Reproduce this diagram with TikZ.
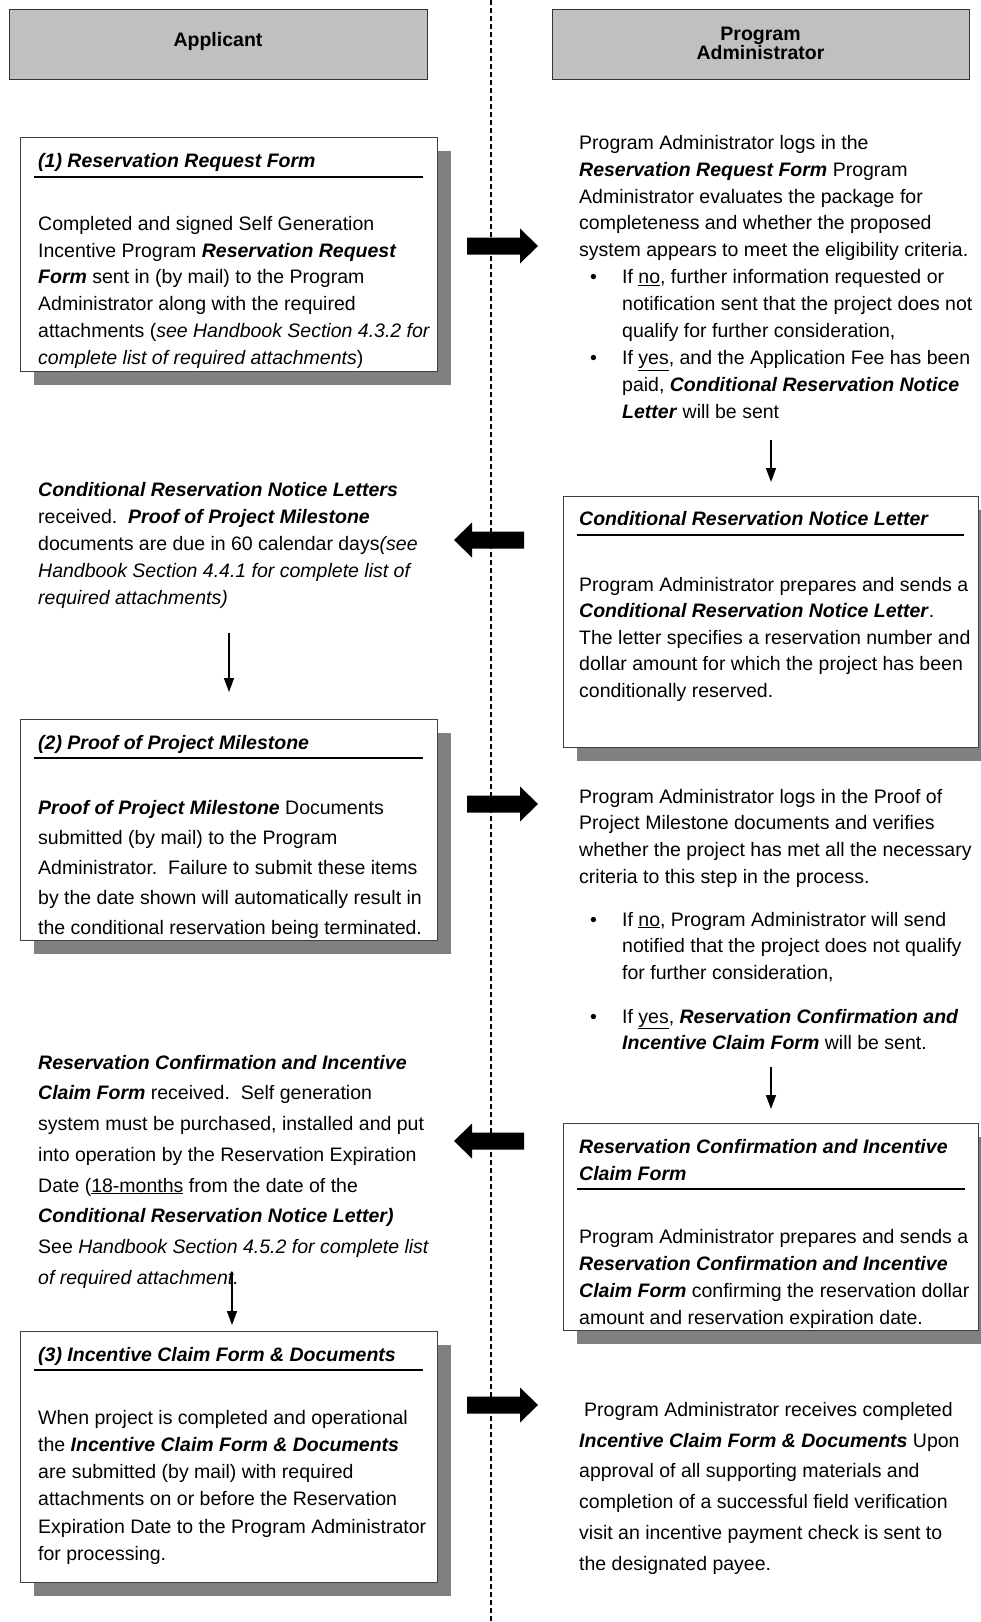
\documentclass[tikz,border=0pt]{standalone}
\usepackage{fontspec}
\setmainfont{Liberation Sans}
\usetikzlibrary{arrows.meta,shadows}
\definecolor{hdrgray}{RGB}{192,192,192}
\definecolor{shadowgray}{RGB}{128,128,128}
\newcommand\bfit[1]{\textbf{\textit{#1}}}
\newcommand\fl{\rule{0pt}{15pt}}
\newcommand\blt{\hspace*{11pt}\makebox[32pt][l]{\textbullet}}
\newcommand\bind{\hspace*{43pt}}
\tikzset{
  hdr/.style={draw=black!80, line width=0.9pt, fill=hdrgray, anchor=north west, inner sep=0pt,
    font=\fontsize{19.5}{19}\selectfont\bfseries, align=center},
  card/.style={draw=black!75, line width=0.9pt, fill=white, anchor=north west, inner sep=0pt,
    drop shadow={opacity=1, fill=shadowgray, shadow xshift=14pt, shadow yshift=-14pt}},
  txt/.style={anchor=north west, inner sep=0pt, align=left, font=\fontsize{19.5}{27}\selectfont},
  rule/.style={line width=1.6pt},
  downarrow/.style={line width=1.4pt, -{Triangle[width=10pt,length=14pt]}},
  divider/.style={line width=2pt, dash pattern=on 5pt off 3pt},
  rblock/.pic={\fill (0,-8.5) -- (53,-8.5) -- (53,-17.5) -- (71,0) -- (53,17.5) -- (53,8.5) -- (0,8.5) -- cycle;},
  lblock/.pic={\fill (0,0) -- (18,-17.5) -- (18,-8.5) -- (70,-8.5) -- (70,8.5) -- (18,8.5) -- (18,17.5) -- cycle;},
}
\begin{document}
\begin{tikzpicture}[x=1pt,y=-1pt]
\useasboundingbox (0,0) rectangle (981,1622);
\fill[white] (0,0) rectangle (981,1622);

% divider
\coordinate (dtop) at (490.7,0);
\coordinate (dbot) at (490.7,1622);
\draw[divider] (dtop) -- (dbot);

% headers
\node[hdr, minimum width=418, minimum height=70] (hA) at (9,9) {};
\node[font=\fontsize{19.5}{19}\selectfont\bfseries] (hAt) at (218,41) {Applicant};
\node[hdr, minimum width=417, minimum height=70] (hP) at (552,9) {};
\node[font=\fontsize{19.5}{19}\selectfont\bfseries, align=center] (hPt) at (760.5,43) {Program\\Administrator};

% ---------- Box 1
\node[card, minimum width=417, minimum height=234] (b1) at (20,137) {};
\node[txt] (b1t) at (38,152) {\fl\bfit{(1) Reservation Request Form}};
\coordinate (b1ua) at (34,177); \coordinate (b1ub) at (423,177);
\draw[rule] (b1ua) -- (b1ub);
\node[txt, font=\fontsize{19.5}{26.8}\selectfont] (b1b) at (38,215) {\fl Completed and signed Self Generation\\
Incentive Program \bfit{Reservation Request}\\
\bfit{Form} sent in (by mail) to the Program\\
Administrator along with the required\\
attachments (\textit{see Handbook Section 4.3.2 for}\\
\textit{complete list of required attachments})};

% ---------- PA text 1
\node[txt, font=\fontsize{19.5}{26.9}\selectfont] (pa1) at (579,134) {\fl Program Administrator logs in the\\
\bfit{Reservation Request Form} Program\\
Administrator evaluates the package for\\
completeness and whether the proposed\\
system appears to meet the eligibility criteria.\\
\blt If \underline{no}, further information requested or\\
\bind notification sent that the project does not\\
\bind qualify for further consideration,\\
\blt If \underline{yes}, and the Application Fee has been\\
\bind paid, \bfit{Conditional Reservation Notice}\\
\bind \bfit{Letter} will be sent};

\pic at (467,246) {rblock};

\coordinate (d1a) at (771,440); \coordinate (d1b) at (771,482);
\draw[downarrow] (d1a) -- (d1b);

% ---------- Conditional Reservation Notice Letter box
\node[card, minimum width=415, minimum height=251] (crnl) at (563,496) {};
\node[txt] (crnlt) at (579,510) {\fl\bfit{Conditional Reservation Notice Letter}};
\coordinate (cua) at (577,535); \coordinate (cub) at (964,535);
\draw[rule] (cua) -- (cub);
\node[txt, font=\fontsize{19.5}{26.5}\selectfont] (crnlb) at (579,576) {\fl Program Administrator prepares and sends a\\
\bfit{Conditional Reservation Notice Letter}.\\
The letter specifies a reservation number and\\
dollar amount for which the project has been\\
conditionally reserved.};

% ---------- Left text 1
\node[txt, font=\fontsize{19.5}{27}\selectfont] (l1) at (38,481) {\fl\bfit{Conditional Reservation Notice Letters}\\
received.\ \ \bfit{Proof of Project Milestone}\\
documents are due in 60 calendar days\textit{(see}\\
\textit{Handbook Section 4.4.1 for complete list of}\\
\textit{required attachments)}};

\pic at (454,540) {lblock};

\coordinate (d2a) at (229,633); \coordinate (d2b) at (229,692);
\draw[downarrow] (d2a) -- (d2b);

% ---------- Box 2
\node[card, minimum width=417, minimum height=221] (b2) at (20,719) {};
\node[txt] (b2t) at (38,734) {\fl\bfit{(2) Proof of Project Milestone}};
\coordinate (b2ua) at (34,758); \coordinate (b2ub) at (423,758);
\draw[rule] (b2ua) -- (b2ub);
\node[txt, font=\fontsize{19.5}{30}\selectfont] (b2b) at (38,799) {\fl\bfit{Proof of Project Milestone} Documents\\
submitted (by mail) to the Program\\
Administrator.\ \ Failure to submit these items\\
by the date shown will automatically result in\\
the conditional reservation being terminated.};

\pic at (467,804) {rblock};

% ---------- PA text 2
\node[txt, font=\fontsize{19.5}{26.7}\selectfont] (pa2) at (579,788) {\fl Program Administrator logs in the Proof of\\
Project Milestone documents and verifies\\
whether the project has met all the necessary\\
criteria to this step in the process.\\[16pt]
\blt If \underline{no}, Program Administrator will send\\
\bind notified that the project does not qualify\\
\bind for further consideration,\\[17pt]
\blt If \underline{yes}, \bfit{Reservation Confirmation and}\\
\bind \bfit{Incentive Claim Form} will be sent.};

\coordinate (d3a) at (771,1067); \coordinate (d3b) at (771,1109);
\draw[downarrow] (d3a) -- (d3b);

% ---------- Left text 2
\node[txt, font=\fontsize{19.5}{30.7}\selectfont] (l2) at (38,1054) {\fl\bfit{Reservation Confirmation and Incentive}\\
\bfit{Claim Form} received.\ \ Self generation\\
system must be purchased, installed and put\\
into operation by the Reservation Expiration\\
Date (\underline{18-months} from the date of the\\
\bfit{Conditional Reservation Notice Letter)}\\
See \textit{Handbook Section 4.5.2 for complete list}\\
\textit{of required attachment.}};

\pic at (454,1141) {lblock};

% ---------- RC box
\node[card, minimum width=415, minimum height=207] (rc) at (563,1123) {};
\node[txt, font=\fontsize{19.5}{27}\selectfont] (rct) at (579,1138) {\fl\bfit{Reservation Confirmation and Incentive}\\
\bfit{Claim Form}};
\coordinate (rua) at (577,1189); \coordinate (rub) at (965,1189);
\draw[rule] (rua) -- (rub);
\node[txt, font=\fontsize{19.5}{27}\selectfont] (rcb) at (579,1228) {\fl Program Administrator prepares and sends a\\
\bfit{Reservation Confirmation and Incentive}\\
\bfit{Claim Form} confirming the reservation dollar\\
amount and reservation expiration date.};

\coordinate (d4a) at (232,1272); \coordinate (d4b) at (232,1325);
\draw[downarrow] (d4a) -- (d4b);

% ---------- Box 3
\node[card, minimum width=417, minimum height=251] (b3) at (20,1331) {};
\node[txt] (b3t) at (38,1346) {\fl\bfit{(3) Incentive Claim Form \& Documents}};
\coordinate (b3ua) at (34,1370); \coordinate (b3ub) at (423,1370);
\draw[rule] (b3ua) -- (b3ub);
\node[txt, font=\fontsize{19.5}{27.2}\selectfont] (b3b) at (38,1409) {\fl When project is completed and operational\\
the \bfit{Incentive Claim Form \& Documents}\\
are submitted (by mail) with required\\
attachments on or before the Reservation\\
Expiration Date to the Program Administrator\\
for processing.};

\pic at (467,1405) {rblock};

% ---------- PA text 3
\node[txt, font=\fontsize{19.5}{30.8}\selectfont] (pa3) at (579,1401) {\fl\hspace*{5pt}Program Administrator receives completed\\
\bfit{Incentive Claim Form \& Documents} Upon\\
approval of all supporting materials and\\
completion of a successful field verification\\
visit an incentive payment check is sent to\\
the designated payee.};
\end{tikzpicture}
\end{document}
